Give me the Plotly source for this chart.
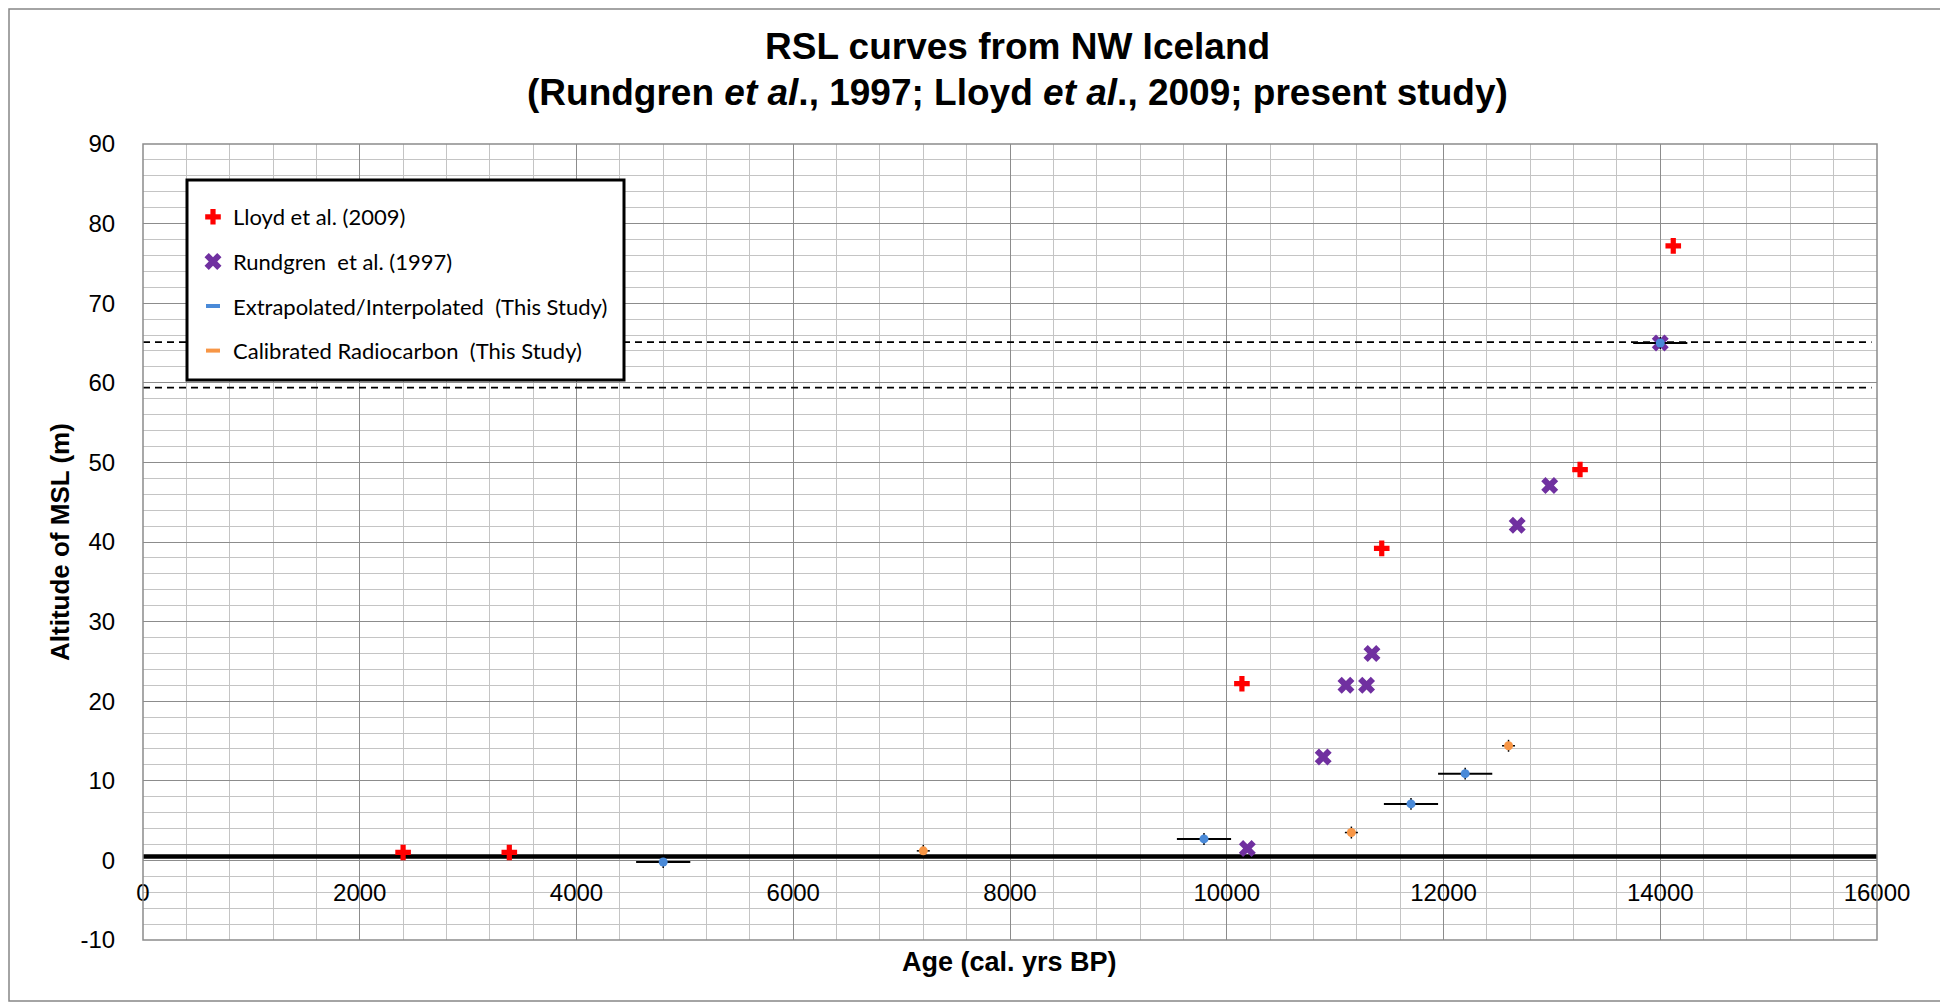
import plotly.graph_objects as go

# ---------------- data ----------------
lloyd_age = [2400, 3380, 10140, 11430, 13260, 14120]
lloyd_alt = [1.0, 1.0, 22.2, 39.2, 49.1, 77.2]

rund_age = [10190, 10890, 11100, 11290, 11340, 12680, 12980, 14000]
rund_alt = [1.5, 13.0, 22.0, 22.0, 26.0, 42.1, 47.1, 65.0]

interp_age = [4800, 9790, 11700, 12200, 14000]
interp_alt = [-0.2, 2.7, 7.1, 10.9, 65.0]
interp_age_err = [250, 250, 250, 250, 250]
interp_alt_err = [0.75, 0.75, 0.75, 0.75, 0.75]

calib_age = [7200, 11150, 12600]
calib_alt = [1.2, 3.5, 14.4]
calib_age_err = [60, 60, 60]
calib_alt_err = [0.75, 0.75, 0.75]

msl_age = [0, 16000]
msl_alt = [0.5, 0.5]

dash_upper_age = [0, 15950]
dash_upper_alt = [65.1, 65.1]
dash_lower_age = [0, 15950]
dash_lower_alt = [59.4, 59.4]

x_range = [0, 16000]
y_range = [-10, 90]
x_tickvals = [0, 2000, 4000, 6000, 8000, 10000, 12000, 14000, 16000]
x_ticktext = ["0", "2000", "4000", "6000", "8000", "10000", "12000", "14000", "16000"]
y_tickvals = [-10, 0, 10, 20, 30, 40, 50, 60, 70, 80, 90]
y_ticktext = ["-10", "0", "10", "20", "30", "40", "50", "60", "70", "80", "90"]

# ---------------- figure geometry (screen px; page body has an 8px margin) ----------------
OX, OY = 8, 8
W, H = 1948 - OX, 1004 - OY
L, R, T, B = 143, 1877, 144, 940          # plot area in screen px
ml, mr, mt, mb = L - OX, W - (R - OX), T - OY, H - (B - OY)
pw, ph = R - L, B - T


def px2paper_x(px):
    return (px - L) / pw


def px2paper_y(py):
    return (B - py) / ph


BLUE = "#4A8AD8"
ORANGE = "#F79646"
RED = "#FF0000"
PURPLE = "#7030A0"

fig = go.Figure()

# reference lines
fig.add_trace(go.Scatter(x=dash_upper_age, y=dash_upper_alt, mode="lines",
                         line=dict(color="black", width=1.8, dash="7px,5px"),
                         showlegend=False, hoverinfo="skip"))
fig.add_trace(go.Scatter(x=dash_lower_age, y=dash_lower_alt, mode="lines",
                         line=dict(color="black", width=1.8, dash="7px,5px"),
                         showlegend=False, hoverinfo="skip"))
fig.add_trace(go.Scatter(x=msl_age, y=msl_alt, mode="lines",
                         line=dict(color="black", width=4.5),
                         showlegend=False, hoverinfo="skip"))

# data series
fig.add_trace(go.Scatter(x=lloyd_age, y=lloyd_alt, mode="markers",
                         name="Lloyd et al. (2009)", legendgroup="a",
                         marker=dict(symbol="cross", size=13, color=RED,
                                     line=dict(width=0))))
fig.add_trace(go.Scatter(x=rund_age, y=rund_alt, mode="markers",
                         name="Rundgren  et al. (1997)", legendgroup="b",
                         marker=dict(symbol="x", size=15, color=PURPLE,
                                     line=dict(width=0))))
fig.add_trace(go.Scatter(x=interp_age, y=interp_alt, mode="markers",
                         showlegend=False,
                         error_x=dict(type="data", array=interp_age_err, color="black",
                                      thickness=2, width=0),
                         error_y=dict(type="data", array=interp_alt_err, color="black",
                                      thickness=1.5, width=0),
                         marker=dict(symbol="circle", size=9, color=BLUE,
                                     line=dict(width=0))))
fig.add_trace(go.Scatter(x=calib_age, y=calib_alt, mode="markers",
                         showlegend=False,
                         error_x=dict(type="data", array=calib_age_err, color="black",
                                      thickness=1.5, width=0),
                         error_y=dict(type="data", array=calib_alt_err, color="black",
                                      thickness=1.5, width=0),
                         marker=dict(symbol="circle", size=9, color=ORANGE,
                                     line=dict(width=0))))

# legend-only entries with dash symbols
fig.add_trace(go.Scatter(x=[None], y=[None], mode="markers",
                         name="Extrapolated/Interpolated  (This Study)", legendgroup="c",
                         marker=dict(symbol="line-ew", size=10,
                                     line=dict(color=BLUE, width=4))))
fig.add_trace(go.Scatter(x=[None], y=[None], mode="markers",
                         name="Calibrated Radiocarbon  (This Study)", legendgroup="d",
                         marker=dict(symbol="line-ew", size=10,
                                     line=dict(color=ORANGE, width=4))))

MAJOR = "#8C8C8C"
MINOR = "#C4C4C4"
FONT = "Liberation Sans, Arial"
TICKFONT = dict(family=FONT, size=24, color="black")

fig.update_xaxes(range=x_range, tickmode="array", tickvals=x_tickvals, ticktext=x_ticktext,
                 showgrid=True, gridcolor=MAJOR, gridwidth=1.3,
                 minor=dict(dtick=400, tick0=0, showgrid=True, gridcolor=MINOR, gridwidth=1.2),
                 zeroline=False, showline=False,
                 anchor="free", position=(0 - y_range[0]) / (y_range[1] - y_range[0]),
                 ticks="outside", ticklen=11, tickcolor="rgba(0,0,0,0)",
                 tickfont=TICKFONT, fixedrange=True)
fig.update_yaxes(range=y_range, tickmode="array", tickvals=y_tickvals, ticktext=y_ticktext,
                 showgrid=True, gridcolor=MAJOR, gridwidth=1.3,
                 minor=dict(dtick=2, tick0=0, showgrid=True, gridcolor=MINOR, gridwidth=1.2),
                 zeroline=False, showline=False,
                 ticks="outside", ticklen=22, tickcolor="rgba(0,0,0,0)",
                 tickfont=TICKFONT, fixedrange=True)

shapes = [
    # plot-area border
    dict(type="rect", xref="paper", yref="paper", x0=0, x1=1, y0=0, y1=1,
         line=dict(color=MAJOR, width=1.5), fillcolor="rgba(0,0,0,0)", layer="above"),
    # legend box
    dict(type="rect", xref="paper", yref="paper",
         x0=px2paper_x(187), x1=px2paper_x(624), y0=px2paper_y(380), y1=px2paper_y(180),
         line=dict(color="black", width=3), fillcolor="white", layer="above"),
    # outer chart border
    dict(type="rect", xref="paper", yref="paper",
         x0=px2paper_x(9), x1=px2paper_x(1941), y0=px2paper_y(1001), y1=px2paper_y(9),
         line=dict(color="#868686", width=1.5), fillcolor="rgba(0,0,0,0)", layer="below"),
]

annotations = [
    dict(text="<b>RSL curves from NW Iceland</b>", xref="paper", yref="paper",
         x=px2paper_x(1017), y=px2paper_y(47), xanchor="center", yanchor="middle",
         showarrow=False, font=dict(family=FONT, size=37, color="black")),
    dict(text="<b>(Rundgren <i>et al</i>., 1997; Lloyd <i>et al</i>., 2009; present study)</b>",
         xref="paper", yref="paper",
         x=px2paper_x(1017), y=px2paper_y(92), xanchor="center", yanchor="middle",
         showarrow=False, font=dict(family=FONT, size=37, color="black")),
    dict(text="<b>Age (cal. yrs BP)</b>", xref="paper", yref="paper",
         x=px2paper_x(1009), y=px2paper_y(962), xanchor="center", yanchor="middle",
         showarrow=False, font=dict(family=FONT, size=27, color="black")),
    dict(text="<b>Altitude of MSL (m)</b>", xref="paper", yref="paper",
         x=px2paper_x(60), y=0.5, xanchor="center", yanchor="middle", textangle=-90,
         showarrow=False, font=dict(family=FONT, size=26, color="black")),
]

fig.update_layout(
    width=W, height=H,
    margin=dict(l=ml, r=mr, t=mt, b=mb, pad=0),
    paper_bgcolor="white", plot_bgcolor="white",
    showlegend=True,
    legend=dict(x=px2paper_x(193), y=px2paper_y(196), xanchor="left", yanchor="top",
                bgcolor="rgba(0,0,0,0)", borderwidth=0,
                font=dict(family="Lato", size=22, color="black"),
                traceorder="grouped", tracegroupgap=13, itemsizing="trace"),
    shapes=shapes, annotations=annotations,
)

fig.write_html("out.html")
